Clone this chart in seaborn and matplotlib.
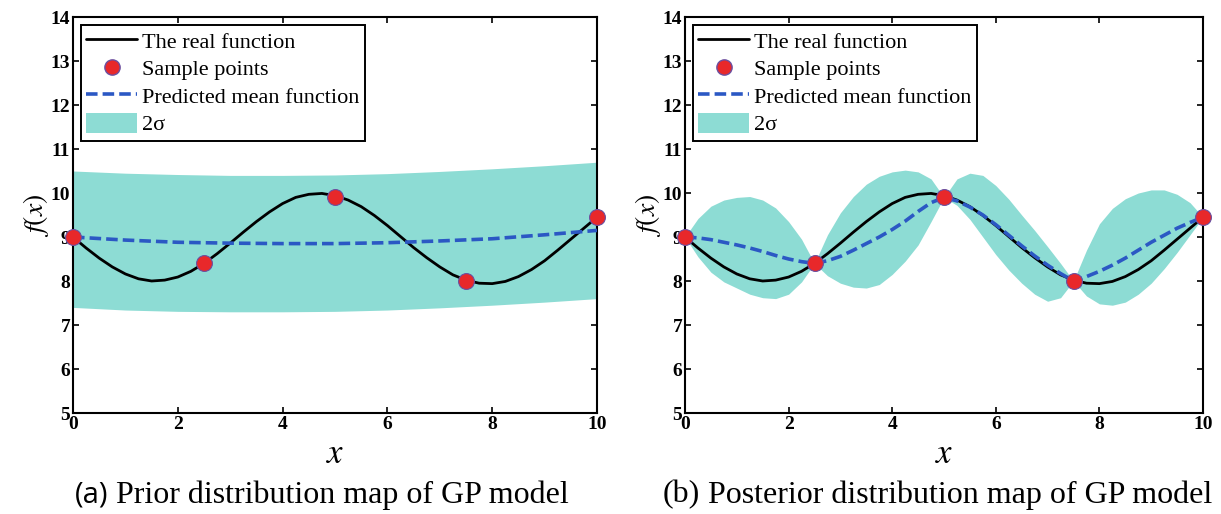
import numpy as np
import pandas as pd
import matplotlib
matplotlib.use("Agg")
import matplotlib.pyplot as plt
import seaborn as sns
from matplotlib.lines import Line2D
from matplotlib.patches import Patch

# ---- data ----
x_fine = [0, 0.25, 0.5, 0.75, 1, 1.25, 1.5, 1.75, 2, 2.25, 2.5, 2.75, 3, 3.25, 3.5,
          3.75, 4, 4.25, 4.5, 4.75, 5, 5.25, 5.5, 5.75, 6, 6.25, 6.5, 6.75, 7, 7.25,
          7.5, 7.75, 8, 8.25, 8.5, 8.75, 9, 9.25, 9.5, 9.75, 10]

real_f = [9.00, 8.75, 8.52, 8.32, 8.16, 8.05, 8.00, 8.02, 8.09, 8.22, 8.40, 8.62, 8.86,
          9.11, 9.35, 9.57, 9.76, 9.90, 9.97, 9.99, 9.94, 9.84, 9.69, 9.49, 9.26, 9.01,
          8.76, 8.53, 8.32, 8.14, 8.02, 7.95, 7.94, 7.99, 8.10, 8.26, 8.46, 8.70, 8.95,
          9.20, 9.45]

sample_x = [0, 2.5, 5, 7.5, 10]
sample_y = [9.00, 8.40, 9.90, 8.00, 9.45]

# prior (a)
x_prior = [0, 1, 2, 3, 4, 5, 6, 7, 8, 9, 10]
prior_mean = [9.00, 8.93, 8.88, 8.86, 8.85, 8.85, 8.87, 8.91, 8.96, 9.05, 9.15]
prior_upper = [10.50, 10.45, 10.42, 10.40, 10.40, 10.41, 10.44, 10.49, 10.55, 10.62, 10.70]
prior_lower = [7.40, 7.34, 7.31, 7.30, 7.30, 7.31, 7.34, 7.39, 7.45, 7.52, 7.60]

# posterior (b)
post_mean = [9.00, 8.98, 8.94, 8.88, 8.82, 8.75, 8.67, 8.58, 8.50, 8.44, 8.40,
             8.46, 8.56, 8.70, 8.85, 9.00, 9.17, 9.36, 9.58, 9.78, 9.90,
             9.82, 9.68, 9.50, 9.28, 9.04, 8.80, 8.57, 8.36, 8.17, 8.00,
             8.10, 8.22, 8.36, 8.52, 8.70, 8.88, 9.04, 9.20, 9.33, 9.45]
post_upper = [9.00, 9.42, 9.70, 9.84, 9.90, 9.92, 9.84, 9.66, 9.35, 8.95, 8.40,
              9.05, 9.55, 9.92, 10.20, 10.38, 10.48, 10.52, 10.48, 10.32, 9.90,
              10.32, 10.45, 10.40, 10.17, 9.86, 9.50, 9.15, 8.78, 8.40, 8.00,
              8.70, 9.30, 9.65, 9.87, 10.00, 10.07, 10.07, 9.97, 9.78, 9.45]
post_lower = [9.00, 8.55, 8.20, 7.98, 7.84, 7.70, 7.62, 7.60, 7.70, 7.98, 8.40,
              8.12, 7.95, 7.86, 7.84, 7.92, 8.15, 8.45, 8.82, 9.35, 9.90,
              9.72, 9.40, 9.00, 8.60, 8.25, 7.95, 7.70, 7.54, 7.62, 8.00,
              7.66, 7.48, 7.45, 7.52, 7.70, 7.95, 8.28, 8.65, 9.05, 9.45]

labels = ["The real function", "Sample points", "Predicted mean function", "2\u03c3"]
captions = ["Prior distribution map of GP model", "Posterior distribution map of GP model"]
tags = ["(a)", "(b)"]

band_color = "#8ddcd4"
mean_color = "#2b58c4"
pt_face = "#e8282a"
pt_edge = "#6a4fa0"

sns.set_style("ticks")
plt.rcParams["font.family"] = ["Liberation Serif", "DejaVu Serif"]
plt.rcParams["mathtext.fontset"] = "stix"
for key in ["text.color", "axes.labelcolor", "xtick.color", "ytick.color"]:
    plt.rcParams[key] = "black"

fig = plt.figure(figsize=(12.21, 5.14), dpi=100)
ax_a = fig.add_axes([73 / 1221, 1 - 413 / 514, 524 / 1221, 396 / 514])
ax_b = fig.add_axes([685 / 1221, 1 - 413 / 514, 518 / 1221, 396 / 514])

panels = [
    (ax_a, x_prior, prior_mean, prior_lower, prior_upper),
    (ax_b, x_fine, post_mean, post_lower, post_upper),
]

for ax, xm, mean, lo, hi in panels:
    ax.fill_between(xm, lo, hi, color=band_color, linewidth=0, zorder=1)
    sns.lineplot(x=x_fine, y=real_f, ax=ax, color="black", linewidth=2.0, zorder=3)
    sns.lineplot(x=xm, y=mean, ax=ax, color=mean_color, linewidth=2.6,
                 dashes=False, zorder=4).lines[-1].set_dashes((3.2, 1.4))
    sns.scatterplot(x=sample_x, y=sample_y, ax=ax, s=130, color=pt_face,
                    edgecolor=pt_edge, linewidth=0.8, zorder=5, clip_on=False)

    ax.set_xlim(0, 10)
    ax.set_ylim(5, 14)
    ax.set_xticks(range(0, 11, 2))
    ax.set_yticks(range(5, 15))
    ax.tick_params(direction="in", top=True, right=True, length=4, width=1.2,
                   labelsize=14, pad=2)
    for lab in ax.get_xticklabels() + ax.get_yticklabels():
        lab.set_fontweight("bold")
    for sp in ax.spines.values():
        sp.set_linewidth(1.5)
        sp.set_color("black")
    ax.set_xlabel("$x$", fontsize=25, labelpad=4)
    ax.set_ylabel("$f(x)$", fontsize=20, labelpad=0)

    handles = [
        Line2D([], [], color="black", linewidth=2.0),
        Line2D([], [], linestyle="none", marker="o", markersize=11,
               markerfacecolor=pt_face, markeredgecolor=pt_edge),
        Line2D([], [], color=mean_color, linewidth=2.6, dashes=(3.2, 1.4)),
        Patch(facecolor=band_color, edgecolor="none"),
    ]
    leg = ax.legend(handles, labels, loc="upper left", fontsize=16, frameon=True,
                    fancybox=False, edgecolor="black", framealpha=1,
                    borderpad=0.25, labelspacing=0.22, handlelength=2.3,
                    handleheight=1.0, handletextpad=0.2, borderaxespad=0.35)
    leg.get_frame().set_linewidth(1.4)

# captions: "(a)" is set in a sans face in the reference, "(b)" in serif
tag_fonts = [["Open Sans", "DejaVu Sans"], ["Liberation Serif", "DejaVu Serif"]]
tag_sizes = [21, 23]
for ax, tag, cap, x0, fam, fs in zip([ax_a, ax_b], tags, captions,
                                      [75 / 1221, 663 / 1221], tag_fonts, tag_sizes):
    t = fig.text(x0, 0.022, tag, fontsize=fs, family=fam)
    ax.annotate(" " + cap, xy=(1, 0), xycoords=t, va="bottom", ha="left",
                fontsize=23, annotation_clip=False)

fig.savefig("out.png", dpi=100)
